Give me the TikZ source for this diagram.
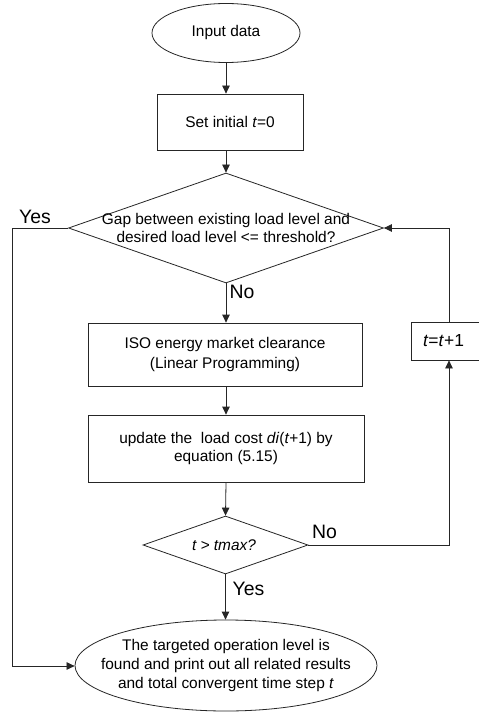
\documentclass[tikz,border=0pt]{standalone}
\usepackage{fontspec}
\setmainfont{Liberation Sans}
\usetikzlibrary{shapes.geometric,arrows.meta}
\begin{document}
\begin{tikzpicture}[x=1bp,y=-1bp,
  base/.style={draw=black!85,line width=0.8bp,inner sep=0pt},
  txt/.style={inner sep=0pt,align=center,font=\fontsize{15.5}{19}\selectfont},
  boxn/.style={base,rectangle},
  ell/.style={base,ellipse},
  dia/.style={base,diamond},
  lbl/.style={inner sep=0pt,font=\fontsize{19.5}{22}\selectfont},
  conn/.style={draw=black!85,line width=0.8bp},
  arr/.style={conn,-{Triangle[length=8bp,width=7.5bp]}}]
\useasboundingbox (0,0) rectangle (479,712);
\clip (0,0) rectangle (479,712);
\fill[white] (0,0) rectangle (479,712);

% nodes
\node[ell,minimum width=148bp,minimum height=59bp,txt] (in) at (226,33) {Input data};
\node[boxn,minimum width=146bp,minimum height=56bp,txt] (s0) at (230,122) {Set initial \textit{t}=0};
\node[dia,minimum width=315bp,minimum height=110bp] (d1) at (226,228) {};
\node[txt] (d1t) at (226,228) {Gap between existing load level and\\desired load level <= threshold?};
\node[boxn,minimum width=274bp,minimum height=63bp,txt] (iso) at (225,354.5) {ISO energy market clearance\\[2bp](Linear Programming)};
\node[boxn,minimum width=276bp,minimum height=67bp,txt] (upd) at (226,448.5) {update the\ \ load cost \textit{di}(\textit{t}+1) by\\equation (5.15)};
\node[dia,minimum width=165bp,minimum height=58bp] (d2) at (225.5,545) {};
\node[txt] (d2t) at (224,545) {\textit{t > tmax?}};
\node[boxn,minimum width=76bp,minimum height=38bp] (tt) at (449,341) {};
\node[txt,font=\fontsize{17.5}{20}\selectfont] (ttt) at (443.5,341) {\textit{t}=\textit{t}+1};
\node[ell,minimum width=302bp,minimum height=91bp] (out) at (226,665.5) {};
\node[txt] (outt) at (226,665.5) {The targeted operation level is\\found and print out all related results\\and total convergent time step \textit{t}};

% labels
\node[lbl] (yes1) at (35,217) {Yes};
\node[lbl] (no1) at (242,292) {No};
\node[lbl] (no2) at (324.5,532) {No};
\node[lbl] (yes2) at (248.5,589) {Yes};

% helper coordinates
\coordinate (lx1) at (12,228);
\coordinate (lx2) at (12,666);
\coordinate (rx1) at (449,545);
\coordinate (rx2) at (449,228);

% connectors
\draw[arr] (in.south) -- (in.south |- s0.north);
\draw[arr] (in.south |- s0.south) -- (d1.north);
\draw[arr] (d1.south) -- (d1.south |- iso.north);
\draw[arr] (d1.south |- iso.south) -- (d1.south |- upd.north);
\draw[arr] (d1.south |- upd.south) -- (d2.north);
\draw[arr] (d2.south) -- (d2.south |- out.north);
\draw[arr] (d2.east) -- (rx1) -- (rx1 |- tt.south);
\draw[arr] (rx1 |- tt.north) -- (rx2) -- (d1.east);
\draw[arr] (d1.west) -- (lx1) -- (lx2) -- (out.west |- lx2);
\end{tikzpicture}
\end{document}
